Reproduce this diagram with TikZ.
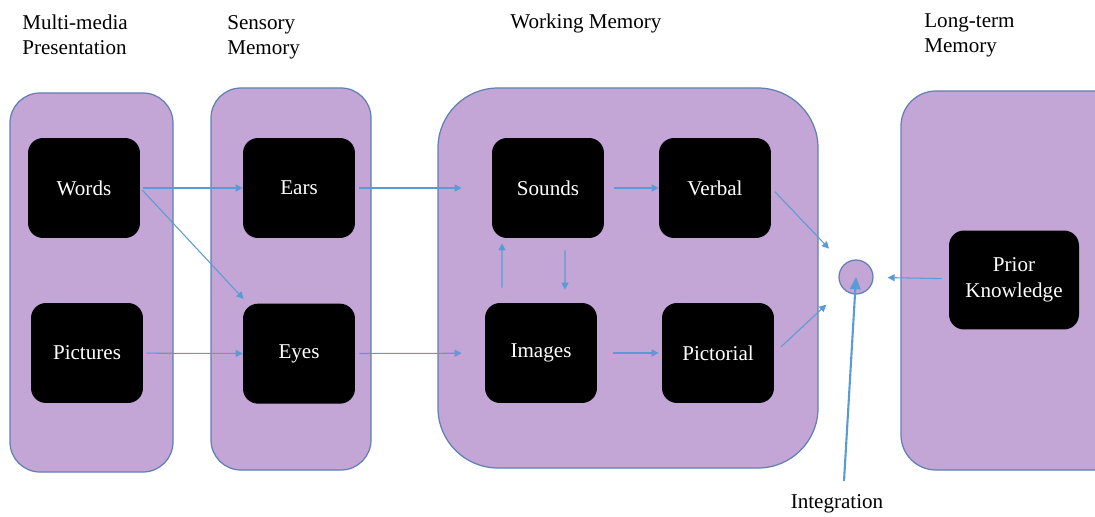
\documentclass[tikz,border=0pt]{standalone}
\usepackage{fontspec}
\setmainfont{Liberation Serif}
\usetikzlibrary{arrows.meta,positioning}
\definecolor{lavender}{RGB}{195,165,214}
\definecolor{edgeblue}{RGB}{96,128,180}
\definecolor{arrowblue}{RGB}{91,155,213}

\begin{document}
\begin{tikzpicture}[
  x=0.02cm, y=-0.02cm,
  panel/.style={draw=edgeblue, fill=lavender, line width=0.7pt},
  box/.style={fill=black, rounded corners=0.3cm, text=white, align=center, font=\fontsize{12}{14.5}\selectfont, minimum width=2.24cm, minimum height=2cm, inner sep=2pt},
  head/.style={align=left, anchor=base west, font=\fontsize{12}{14.7}\selectfont, inner sep=0pt},
  arr/.style={draw=arrowblue, line width=0.6pt, -{Triangle[length=4pt,width=4pt]}},
  bigarr/.style={draw=arrowblue, line width=1.2pt, -{Triangle[length=7pt,width=6pt]}}
]
\useasboundingbox (0,0) rectangle (1095,517);
\clip (0,0) rectangle (1095,517);

% stage headings (anchored on the last line)
\node[head] (h1) at (22,55) {Multi-media\\Presentation};
\node[head] (h2) at (227,55) {Sensory\\Memory};
\node[head] (h3) at (510,29) {Working Memory};
\node[head] (h4) at (924,53) {Long-term\\Memory};

% stage panels
\draw[panel, rounded corners=0.6cm] (10,93) rectangle (173,472);
\draw[panel, rounded corners=0.6cm] (211,88) rectangle (371,470);
\draw[panel, rounded corners=1.2cm] (438,88) rectangle (818,468);
\draw[panel, rounded corners=0.7cm] (901,91) rectangle (1140,470);

% boxes
\node[box] (words) at (84,188) {Words};
\node[box] (pictures) at (87,353) {Pictures};
\node[box] (ears) at (299,188) {Ears};
\node[box, below=1.3cm of ears] (eyes) {Eyes};
\node[box] (sounds) at (548,188) {Sounds};
\node[box] (verbal) at (715,188) {Verbal};
\node[box] (images) at (541,353) {Images};
\node[box] (pictorial) at (718,353) {Pictorial};
\node[box, minimum width=2.6cm, minimum height=1.98cm] (prior) at (1014,280) {Prior\\Knowledge};
\node[circle, draw=edgeblue, fill=lavender, line width=0.7pt, minimum size=0.68cm, inner sep=0pt] (integ) at (856,277) {};
\node[font=\fontsize{12}{14}\selectfont, inner sep=0pt] (integlabel) at (837,504) {Integration};
\coordinate (integfoot) at (844,481);

% connectors
\draw[arr, shorten <=0.6mm] (words) -- (ears);
\draw[arr, shorten <=0.6mm, shorten >=1.2mm] (words.east) -- ([xshift=0.1cm]eyes.north west);
\draw[arr, shorten <=0.6mm] (pictures) -- (eyes);
\draw[arr, shorten <=0.8mm, shorten >=6mm] (ears) -- (sounds);
\draw[arr, shorten <=0.8mm, shorten >=4.6mm] (eyes) -- (images);
\draw[arr, shorten <=2mm] (sounds) -- (verbal);
\draw[arr, shorten <=3.2mm, shorten >=0.6mm] (images) -- (pictorial);
\draw[arr, shorten <=3mm, shorten >=1mm] ([xshift=-0.78cm]images.north) -- ([xshift=-0.92cm]sounds.south);
\draw[arr, shorten <=2.4mm, shorten >=2.6mm] ([xshift=0.34cm]sounds.south) -- ([xshift=0.48cm]images.north);
\draw[arr, shorten <=1mm, shorten >=4.3mm] (verbal.east) -- (integ);
\draw[arr, shorten <=1.8mm, shorten >=4.6mm] (pictorial.east) -- (integ);
\draw[arr, shorten <=1.4mm, shorten >=2.8mm] (prior) -- (integ);
\draw[bigarr] (integfoot) -- (integ.center);
\end{tikzpicture}
\end{document}
